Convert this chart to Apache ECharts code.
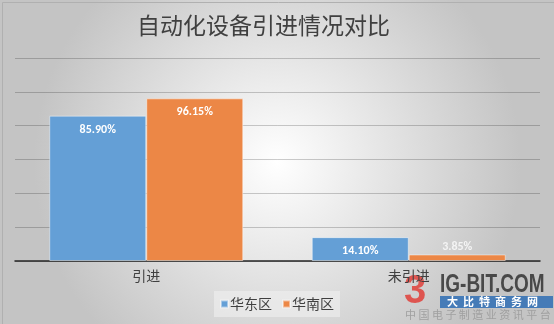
<!DOCTYPE html>
<html><head><meta charset="utf-8">
<script src="https://cdn.jsdelivr.net/npm/echarts@6/dist/echarts.min.js"></script>
<style>html,body{margin:0;padding:0;}#c{width:554px;height:324px;}</style>
</head><body><div id="c"></div>
<script>
const titleText = '自动化设备引进情况对比';
const categories = ['引进', '未引进'];
const seriesNames = ['华东区', '华南区'];
const eastValues = [85.90, 14.10];
const southValues = [96.15, 3.85];
const yTicks = [0, 20, 40, 60, 80, 100, 120];

const chart = echarts.init(document.getElementById('c'));
const FONT = '"Noto Sans CJK SC", "Microsoft YaHei", sans-serif';
function mkData(vals) {
  return vals.map(v => v < 8 ? {value: v, label: {position: 'top', distance: 1, color: '#f4f4f4'}} : v);
}
const labelCfg = {
  show: true, position: 'insideTop', distance: 8, color: '#ffffff',
  fontWeight: 'bold', fontSize: 12, fontFamily: 'Calibri, "Liberation Sans", sans-serif',
  formatter: p => p.value.toFixed(2) + '%'
};
chart.setOption({
  backgroundColor: {
    type: 'radial', x: 0.5, y: 0.5, r: 0.75,
    colorStops: [{offset: 0, color: '#ffffff'}, {offset: 1, color: '#c4c4c4'}]
  },
  title: {
    text: titleText, left: 132, top: 9,
    textStyle: {fontSize: 23, fontWeight: 'normal', color: '#404040', fontFamily: FONT}
  },
  legend: {
    data: seriesNames, bottom: 7, left: 'center',
    itemWidth: 7, itemHeight: 7, itemGap: 10, icon: 'rect',
    backgroundColor: 'rgba(240,240,240,0.6)', padding: [6, 6],
    textStyle: {fontSize: 14, color: '#404040', fontFamily: FONT, padding: [0, 0, 0, -3]}
  },
  grid: {left: 15, right: 14, top: 58, bottom: 63},
  xAxis: {
    type: 'category', data: categories,
    axisLine: {lineStyle: {color: '#262626', width: 1.5}},
    axisTick: {show: false},
    axisLabel: {fontSize: 14, color: '#404040', fontFamily: FONT, margin: 8}
  },
  yAxis: {
    type: 'value', min: yTicks[0], max: yTicks[yTicks.length - 1], interval: 20,
    axisLabel: {show: false}, axisLine: {show: false}, axisTick: {show: false},
    splitLine: {lineStyle: {color: 'rgba(0,0,0,0.2)', width: 1}}
  },
  series: [
    {name: seriesNames[0], type: 'bar', data: mkData(eastValues), barWidth: 97, barGap: '0%',
     itemStyle: {color: '#649fd6', borderColor: 'rgba(255,255,255,0.45)', borderWidth: 1}, label: labelCfg},
    {name: seriesNames[1], type: 'bar', data: mkData(southValues), barWidth: 97, barGap: '0%',
     itemStyle: {color: '#ec8746', borderColor: 'rgba(255,255,255,0.45)', borderWidth: 1}, label: labelCfg}
  ],
  graphic: [
    {type: 'rect', left: 0, top: 0, shape: {width: 553, height: 323}, style: {fill: 'none', stroke: '#b0b0b0', lineWidth: 1}, silent: true},
    {type: 'text', x: 404, y: 272, style: {text: '3', fill: '#e0403a', font: 'bold 40px "Liberation Sans", sans-serif', opacity: 0.85, textBaseline: 'top'}},
    {type: 'text', x: 440, y: 273, scaleX: 0.76, style: {text: 'IG-BIT.COM', fill: '#333333', font: 'bold 25px "Liberation Sans", sans-serif', opacity: 0.85, textBaseline: 'top'}},
    {type: 'rect', left: 440, top: 296, shape: {width: 113, height: 12}, style: {fill: '#2f6fb5', opacity: 0.85}},
    {type: 'text', x: 447, y: 296, style: {text: '大  比  特  商  务  网', fill: '#ffffff', font: 'bold 11px "Noto Sans CJK SC", sans-serif', textBaseline: 'top'}},
    {type: 'text', x: 405, y: 309, style: {text: '中 国 电 子 制 造 业 资 讯 平 台', fill: '#a0a0a0', font: '11px "Noto Sans CJK SC", sans-serif', textBaseline: 'top'}}
  ]
});
</script></body></html>
